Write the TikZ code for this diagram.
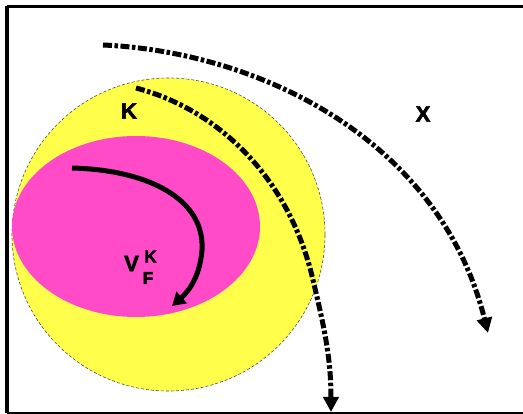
\documentclass[tikz,border=0pt]{standalone}
\usepackage{fontspec}
\setmainfont{Liberation Sans}
\newfontfamily\heavyfont{Liberation Sans Bold}[FakeBold=2.5]
\usetikzlibrary{arrows.meta,shapes.geometric}
\definecolor{kyellow}{RGB}{255,255,75}
\definecolor{fmagenta}{RGB}{255,75,200}
\tikzset{
  lbl/.style={font=\heavyfont\fontsize{22}{22}\selectfont, inner sep=0pt},
  slbl/.style={font=\heavyfont\fontsize{17}{17}\selectfont, inner sep=0pt},
  dashdotarrow/.style={line width=5pt, dash pattern=on 9pt off 2.5pt on 3.5pt off 2.5pt,
     -{Triangle[length=15pt,width=15pt]}},
  solidarrow/.style={line width=5pt, -{Triangle[length=13pt,width=15pt]}},
  frameline/.style={line width=3pt}
}
\begin{document}
\begin{tikzpicture}[x=1pt,y=-1pt]
\useasboundingbox (0,0) rectangle (523,414);
\fill[white] (0,0) rectangle (523,414);
% frame (right side cropped)
\coordinate (tl) at (7,6.5);
\coordinate (tr) at (523,6.5);
\coordinate (bl) at (7,413);
\coordinate (br) at (523,413);
\draw[frameline, line width=4pt] (tl) -- (bl);
\draw[frameline] (tl) -- (tr);
\draw[line width=2pt] (bl) -- (br);
% sets
\node[circle, minimum size=313pt, inner sep=0pt, fill=kyellow, draw=black!70, densely dashed, line width=0.6pt] (K) at (168.5,234.5) {};
\node[ellipse, minimum width=248pt, minimum height=181pt, inner sep=0pt, fill=fmagenta, draw=none] (F) at (136,226.5) {};
% labels
\node[lbl] (lK) at (129,111) {K};
\node[lbl] (lX) at (423,114) {X};
\node[lbl] (lV) at (131.5,263.5) {V};
\node[slbl] (lsup) at (150.5,256.5) {K};
\node[slbl] (lsub) at (148,278) {F};
% arrows
\coordinate (a1s) at (72,168);
\coordinate (a1e) at (172,306);
\draw[solidarrow] (a1s) .. controls (150,170) and (205,200) .. (202,250)
   .. controls (200,275) and (190,290) .. (a1e);
\coordinate (a2s) at (136,88);
\coordinate (a2e) at (331,412);
\draw[dashdotarrow] (a2s) .. controls (220,110) and (290,180) .. (313,280)
   .. controls (325,330) and (331,360) .. (a2e);
\coordinate (a3s) at (103,45);
\coordinate (a3e) at (488,333);
\draw[dashdotarrow] (a3s) .. controls (260,52) and (440,140) .. (a3e);
\end{tikzpicture}
\end{document}
